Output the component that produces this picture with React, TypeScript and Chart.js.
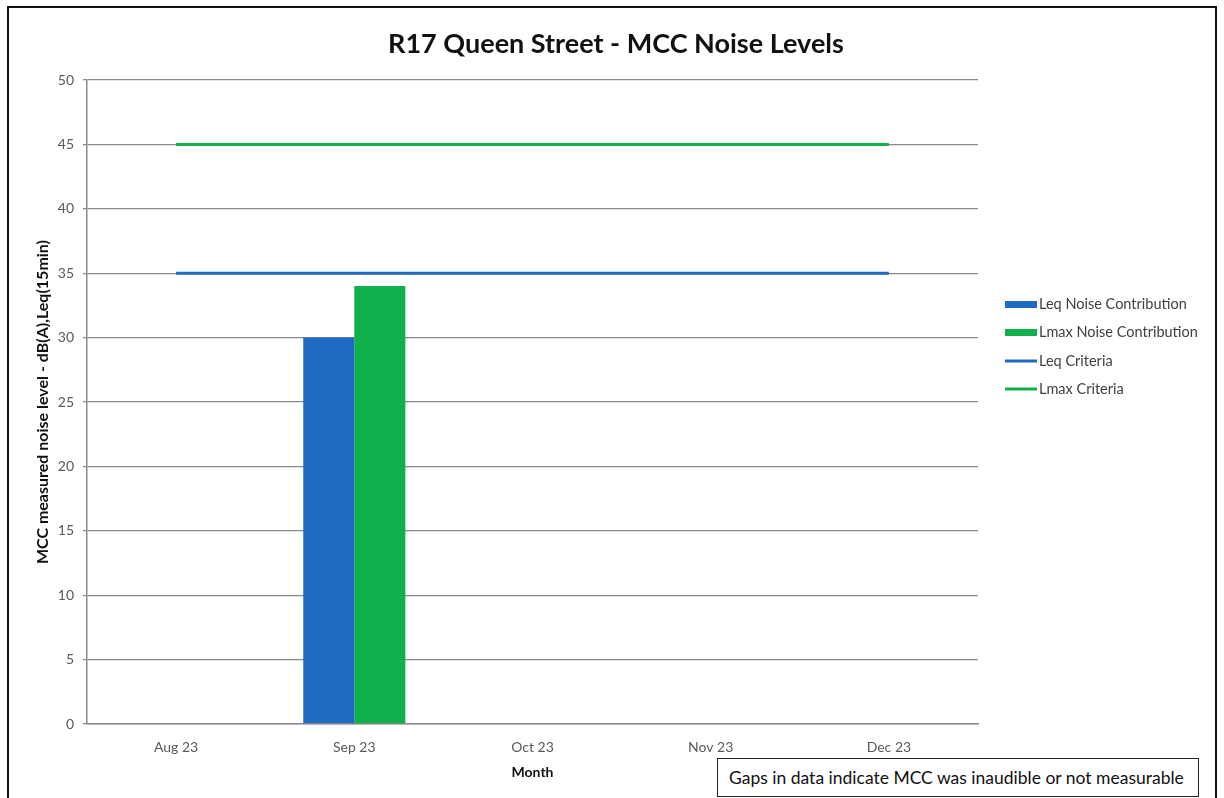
import React, { useEffect, useRef } from "react";
import { Chart, registerables } from "chart.js";

Chart.register(...registerables);

const months = ["Aug 23", "Sep 23", "Oct 23", "Nov 23", "Dec 23"];
const leqContribution = [null, 30, null, null, null];
const lmaxContribution = [null, 34, null, null, null];
const leqCriteria = [35, 35, 35, 35, 35];
const lmaxCriteria = [45, 45, 45, 45, 45];
const yTicks = [0, 5, 10, 15, 20, 25, 30, 35, 40, 45, 50];
const chartTitle = "R17 Queen Street - MCC Noise Levels";

const BLUE = "#1f6bc4";
const GREEN = "#12b04c";
const FONT = "Lato, 'Open Sans', sans-serif";

const legendItems = [
  { label: "Leq Noise Contribution", color: BLUE, kind: "bar" },
  { label: "Lmax Noise Contribution", color: GREEN, kind: "bar" },
  { label: "Leq Criteria", color: BLUE, kind: "line" },
  { label: "Lmax Criteria", color: GREEN, kind: "line" },
];

const legendPlugin = {
  id: "sideLegend",
  afterDraw(chart: any) {
    const ctx = chart.ctx;
    ctx.save();
    // title
    ctx.font = `bold 27px ${FONT}`;
    ctx.fillStyle = "#111111";
    ctx.textAlign = "center";
    ctx.textBaseline = "middle";
    ctx.fillText(chartTitle, 616, 44);
    // legend
    ctx.font = `14.5px ${FONT}`;
    ctx.textBaseline = "middle";
    ctx.textAlign = "left";
    const x0 = 1005;
    const ys = [304, 332, 361, 389];
    legendItems.forEach((it, i) => {
      const y = ys[i];
      ctx.fillStyle = it.color;
      if (it.kind === "bar") {
        ctx.fillRect(x0, y - 3, 32, 7);
      } else {
        ctx.fillRect(x0, y - 1.5, 32, 3);
      }
      ctx.fillStyle = "#404040";
      ctx.fillText(it.label, x0 + 34, y);
    });
    ctx.restore();
  },
};

const bgPlugin = {
  id: "bg",
  beforeDraw(chart: any) {
    const ctx = chart.ctx;
    ctx.save();
    ctx.fillStyle = "#ffffff";
    ctx.fillRect(0, 0, chart.width, chart.height);
    ctx.restore();
  },
};

export default function App() {
  const ref = useRef<HTMLCanvasElement | null>(null);
  useEffect(() => {
    document.body.style.overflow = "hidden";
    const canvas = ref.current;
    if (!canvas) return;
    const chart = new Chart(canvas, {
      type: "bar",
      data: {
        labels: months,
        datasets: [
          {
            type: "bar",
            label: "Leq Noise Contribution",
            data: leqContribution,
            backgroundColor: BLUE,
            order: 2,
          },
          {
            type: "bar",
            label: "Lmax Noise Contribution",
            data: lmaxContribution,
            backgroundColor: GREEN,
            order: 2,
          },
          {
            type: "line",
            label: "Leq Criteria",
            data: leqCriteria,
            borderColor: BLUE,
            borderWidth: 3,
            pointRadius: 0,
            fill: false,
            order: 1,
          },
          {
            type: "line",
            label: "Lmax Criteria",
            data: lmaxCriteria,
            borderColor: GREEN,
            borderWidth: 3,
            pointRadius: 0,
            fill: false,
            order: 1,
          },
        ] as any,
      },
      options: {
        responsive: false,
        animation: false,
        devicePixelRatio: 1,
        layout: { padding: { left: 25, right: 246, top: 80, bottom: 0 } },
        datasets: {
          bar: { categoryPercentage: 0.573, barPercentage: 1 },
        } as any,
        plugins: {
          legend: { display: false },
          tooltip: { enabled: false },
          title: { display: false },
        },
        scales: {
          x: {
            type: "category",
            offset: true,
            grid: { display: false, drawTicks: false },
            border: { display: true, color: "#8a8a8a", width: 1.5 },
            ticks: {
              color: "#595959",
              font: { family: FONT, size: 14 },
              padding: 15,
              maxRotation: 0,
            },
            title: {
              display: true,
              text: "Month",
              color: "#111111",
              font: { family: FONT, size: 14, weight: "bold" },
              padding: { top: 0, bottom: 17 },
            },
            afterFit: (s: any) => {
              s.height = 74;
            },
          },
          y: {
            min: 0,
            max: 50,
            afterBuildTicks: (s: any) => {
              s.ticks = yTicks.map((v) => ({ value: v }));
            },
            grid: {
              color: "#8a8a8a",
              lineWidth: 1.3,
              tickLength: 4,
              drawTicks: true,
            },
            border: { display: true, color: "#8a8a8a", width: 1.5 },
            ticks: {
              color: "#595959",
              font: { family: FONT, size: 14 },
              padding: 9,
            },
            title: {
              display: true,
              text: "MCC measured noise level - dB(A),Leq(15min)",
              color: "#111111",
              font: { family: FONT, size: 16, weight: "bold" },
              padding: { top: 8, bottom: 0 },
            },
            afterFit: (s: any) => {
              s.width = 62;
            },
          },
        },
      },
      plugins: [bgPlugin, legendPlugin],
    });
    return () => chart.destroy();
  }, []);

  return (
    <div style={{ position: "absolute", left: 0, top: 0, width: 1224, height: 798, overflow: "hidden", background: "#fff" }}>
      <canvas ref={ref} width={1224} height={798} style={{ position: "absolute", left: 0, top: 0, width: 1224, height: 798 }} />
      <div
        style={{
          position: "absolute",
          left: 7,
          top: 6,
          width: 1210,
          height: 830,
          border: "2px solid #111",
          borderBottom: "none",
          boxSizing: "border-box",
          pointerEvents: "none",
        }}
      />
      <div
        style={{
          position: "absolute",
          left: 717,
          top: 758,
          width: 482,
          height: 39,
          border: "1.5px solid #222",
          boxSizing: "border-box",
          background: "#fff",
          fontFamily: FONT,
          fontSize: 17.5,
          color: "#111",
          display: "flex",
          alignItems: "center",
          paddingLeft: 11,
          whiteSpace: "nowrap",
        }}
      >
        Gaps in data indicate MCC was inaudible or not measurable
      </div>
    </div>
  );
}
